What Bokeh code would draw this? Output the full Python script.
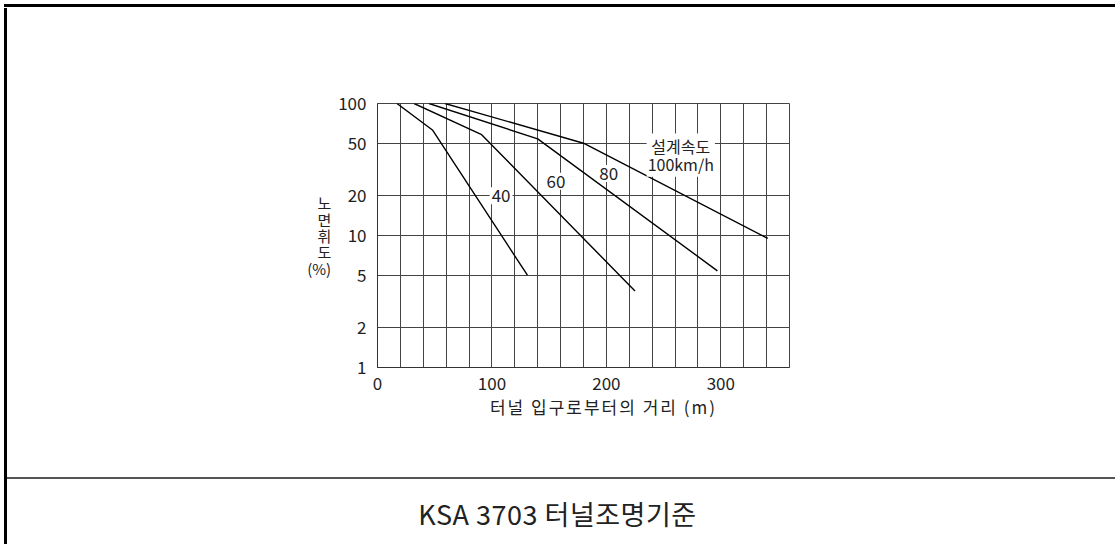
from bokeh.plotting import figure
from bokeh.models import Label, FixedTicker, PrintfTickFormatter, Range1d, Div
from bokeh.layouts import row, column
from bokeh.embed import file_html
from bokeh.resources import INLINE

FONT = "Noto Sans CJK KR"

# ---- data ----
speeds = ["40", "60", "80"]
x40 = [17, 48, 131]
y40 = [100, 63, 5]
x60 = [32, 91, 225]
y60 = [100, 58, 3.8]
x80 = [45, 140, 297]
y80 = [100, 54, 5.4]
x100 = [59, 180, 341]
y100 = [100, 50, 9.5]

x_ticks = [0, 100, 200, 300]
x_grid = [0, 20, 40, 60, 80, 100, 120, 140, 160, 180, 200, 220, 240, 260, 280, 300, 320, 340, 360]
y_ticks = [1, 2, 5, 10, 20, 50, 100]

speed_label_x = [108, 156, 202]
speed_label_y = [20, 25.8, 29.5]
design_speed_text = "설계속도\n100km/h"
title_text = "KSA 3703 터널조명기준"
x_title = "터널 입구로부터의 거리 (m)"
y_title = "노\n면\n휘\n도\n(%)"

# ---- main chart ----
p = figure(width=1107, height=389, y_axis_type="log",
           x_range=Range1d(0, 360), y_range=Range1d(1, 100),
           output_backend="svg", toolbar_location=None,
           min_border_left=369, min_border_right=326,
           min_border_top=95, min_border_bottom=30, margin=0)
p.outline_line_color = "#444444"
p.outline_line_width = 1
p.background_fill_color = "white"

for ax in (p.xaxis, p.yaxis):
    ax.major_tick_line_color = None
    ax.minor_tick_line_color = None
    ax.axis_line_color = "#333333"
    ax.axis_line_width = 1
    ax.major_label_text_font = FONT
    ax.major_label_text_font_size = "17px"
    ax.major_label_text_color = "#222222"

p.xaxis.ticker = FixedTicker(ticks=x_ticks)
p.xaxis.major_label_standoff = 3
p.yaxis.ticker = FixedTicker(ticks=y_ticks)
p.yaxis.formatter = PrintfTickFormatter(format="%d")
p.yaxis.major_label_standoff = 5
p.yaxis.axis_label = y_title
p.yaxis.axis_label_orientation = "horizontal"
p.yaxis.axis_label_text_font = FONT
p.yaxis.axis_label_text_font_size = "15px"
p.yaxis.axis_label_text_font_style = "normal"
p.yaxis.axis_label_text_color = "#222222"
p.yaxis.axis_label_text_line_height = 0.78
p.yaxis.axis_label_standoff = 4

p.xgrid.ticker = FixedTicker(ticks=x_grid)
p.ygrid.ticker = FixedTicker(ticks=y_ticks)
p.grid.grid_line_color = "#444444"
p.grid.grid_line_width = 1

for xs, ys in ((x40, y40), (x60, y60), (x80, y80), (x100, y100)):
    p.line(xs, ys, line_color="black", line_width=1.4)

for t, lx, ly in zip(speeds, speed_label_x, speed_label_y):
    p.add_layout(Label(x=lx, y=ly, text=t, text_font=FONT, text_font_size="17px",
                       text_align="center", text_baseline="middle", text_color="#222222",
                       background_fill_color="white", padding=2))

p.add_layout(Label(x=265, y=40.7, text=design_speed_text, text_font=FONT, text_font_size="16px",
                   text_align="center", text_baseline="middle", text_color="#222222",
                   text_line_height=0.72, background_fill_color="white", padding=1))

# ---- decorative frame, x-axis title and caption ----
FONT_CSS = "font-family:'Noto Sans CJK KR';color:#222;"

top_div = Div(width=1111, height=3, margin=(4, 0, 1, 4), text="",
              styles={"background-color": "#000000"})

left_div = Div(width=8, height=469, margin=0, text=(
    '<div style="position:relative;width:8px;height:469px;">'
    '<div style="position:absolute;left:4px;top:0px;width:3px;height:469px;background:#000;"></div>'
    '</div>'))

xtitle_div = Div(width=1107, height=80, margin=0, text=(
    '<div style="position:relative;width:1107px;height:80px;">'
    '<div style="position:absolute;left:42px;top:0px;width:1107px;text-align:center;'
    'font-size:17px;letter-spacing:2px;line-height:20px;' + FONT_CSS + '">' + x_title + '</div>'
    '</div>'))

bottom_div = Div(width=1115, height=67, margin=0, text=(
    '<div style="position:relative;width:1115px;height:67px;">'
    '<div style="position:absolute;left:4px;top:0px;width:3px;height:67px;background:#000;"></div>'
    '<div style="position:absolute;left:7px;top:0px;width:1108px;height:2px;background:#555;"></div>'
    '<div style="position:absolute;left:0px;top:22px;width:1115px;text-align:center;'
    'font-size:27px;letter-spacing:0.5px;line-height:30px;' + FONT_CSS + '">' + title_text + '</div>'
    '</div>'))

layout = column(
    top_div,
    row(left_div, column(p, xtitle_div, spacing=0, margin=0), spacing=0, margin=0),
    bottom_div,
    spacing=0, margin=0,
)

open("out.html", "w").write(file_html(layout, INLINE))
